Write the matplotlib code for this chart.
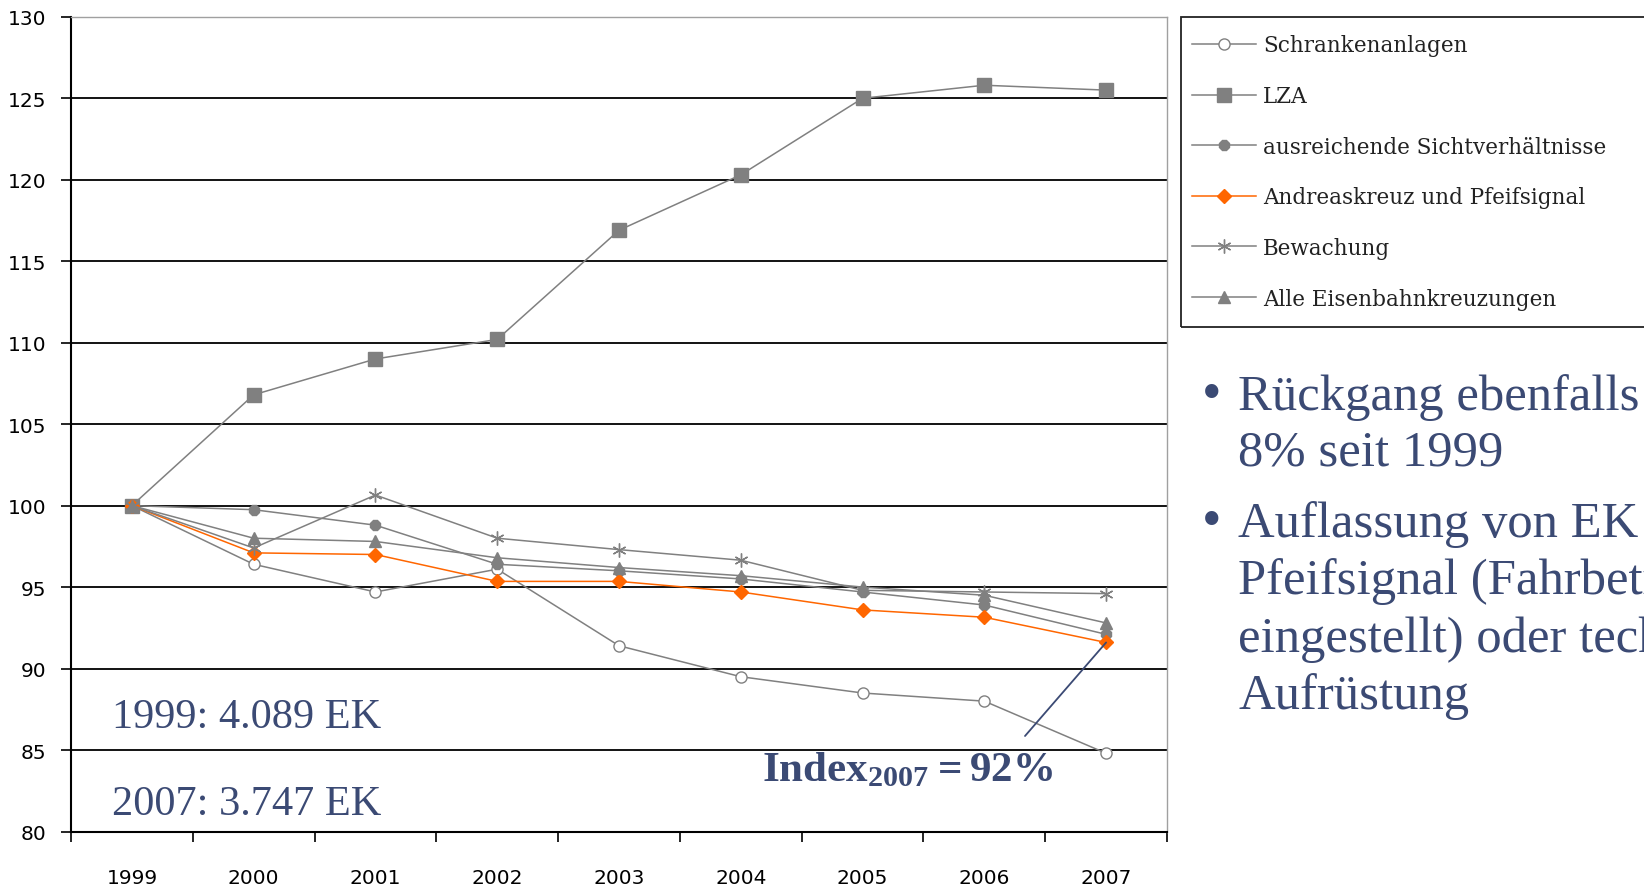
import matplotlib
matplotlib.use("Agg")
import matplotlib.pyplot as plt
from matplotlib.lines import Line2D
from matplotlib.patches import Rectangle

W, H = 1644, 887

years = ["1999", "2000", "2001", "2002", "2003", "2004", "2005", "2006", "2007"]

schrankenanlagen = [100, 96.4, 94.7, 96.1, 91.4, 89.5, 88.5, 88.0, 84.8]
lza = [100, 106.8, 109.0, 110.2, 116.9, 120.3, 125.0, 125.8, 125.5]
sichtverhaeltnisse = [100, 99.75, 98.8, 96.4, 96.0, 95.5, 94.7, 93.9, 92.1]
andreaskreuz = [100, 97.1, 97.0, 95.35, 95.35, 94.7, 93.6, 93.15, 91.6]
bewachung = [100, 97.4, 100.65, 98.0, 97.3, 96.65, 94.8, 94.7, 94.6]
alle_ek = [100, 98.0, 97.8, 96.8, 96.2, 95.7, 95.0, 94.5, 92.8]

series_labels = ["Schrankenanlagen", "LZA", "ausreichende Sichtverhältnisse",
                 "Andreaskreuz und Pfeifsignal", "Bewachung", "Alle Eisenbahnkreuzungen"]

GRAY = "#808080"
ORANGE = "#FF6600"
NAVY = "#3B4A74"

styles = [
    dict(color=GRAY, marker="o", markersize=8, markerfacecolor="white", markeredgecolor=GRAY, markeredgewidth=1.0),
    dict(color=GRAY, marker="s", markersize=10, markerfacecolor=GRAY, markeredgecolor=GRAY),
    dict(color=GRAY, marker="8", markersize=8.5, markerfacecolor=GRAY, markeredgecolor=GRAY),
    dict(color=ORANGE, marker="D", markersize=7.5, markerfacecolor=ORANGE, markeredgecolor=ORANGE),
    dict(color=GRAY, marker=(6, 2, 0), markersize=10, markeredgecolor=GRAY, markeredgewidth=1.0),
    dict(color=GRAY, marker="^", markersize=9, markerfacecolor=GRAY, markeredgecolor=GRAY),
]
data = [schrankenanlagen, lza, sichtverhaeltnisse, andreaskreuz, bewachung, alle_ek]

fig = plt.figure(figsize=(W / 100, H / 100), dpi=100)
fig.patch.set_facecolor("white")


def px(x, y):
    return x / W, 1 - y / H


ax_l, ax_r = 71 / W, 1167 / W
ax_b, ax_t = 1 - 832.5 / H, 1 - 17.8 / H
ax = fig.add_axes([ax_l, ax_b, ax_r - ax_l, ax_t - ax_b])

x = list(range(len(years)))
for vals, st in zip(data, styles):
    ax.plot(x, vals, linewidth=1.1, zorder=3, **st)

ax.set_xlim(-0.5, len(years) - 0.5)
ax.set_ylim(80, 130)
ax.set_yticks(range(80, 131, 5))
ax.yaxis.grid(True, color="black", linewidth=1.3, zorder=1)
ax.set_axisbelow(True)

ax.set_xticks(x)
ax.set_xticklabels(years)
ax.set_xticks([i - 0.5 for i in range(len(years) + 1)], minor=True)
ax.tick_params(axis="x", which="major", length=0, pad=26, labelsize=14.5)
ax.tick_params(axis="x", which="minor", length=7, width=1.2, direction="out", color="black")
ax.tick_params(axis="y", length=7, width=1.2, direction="out", pad=11, labelsize=14.5)

for side in ("left", "bottom"):
    ax.spines[side].set_color("black")
    ax.spines[side].set_linewidth(1.5)
for side in ("top", "right"):
    ax.spines[side].set_color("#A0A0A0")
    ax.spines[side].set_linewidth(1.0)

# Annotation for the 2007 index of the orange series
ax.annotate("", xy=(8, andreaskreuz[-1]), xycoords="data",
            xytext=px(1025, 737), textcoords="figure fraction",
            arrowprops=dict(arrowstyle="-", color=NAVY, linewidth=1.3, shrinkA=0, shrinkB=0))

plt.rcParams["mathtext.fontset"] = "custom"
plt.rcParams["mathtext.rm"] = "Liberation Serif"
plt.rcParams["mathtext.bf"] = "Liberation Serif:bold"
fig.text(*px(762, 781), r"$\mathbf{Index_{2007} = 92\%}$", fontsize=31, color=NAVY,
         va="baseline", ha="left")

serif = "Liberation Serif"
fig.text(*px(112, 728), "1999: 4.089 EK", fontsize=30.5, color=NAVY, family=serif, va="baseline")
fig.text(*px(112, 815), "2007: 3.747 EK", fontsize=30.5, color=NAVY, family=serif, va="baseline")

# Legend: frameless entries plus a separate border rectangle
handles = [Line2D([], [], linewidth=1.1, **st) for st in styles]
leg = fig.legend(handles, series_labels, loc="upper left",
                 bbox_to_anchor=px(1186, 29), frameon=False,
                 prop=dict(family="DejaVu Serif", size=15.5),
                 handlelength=2.95, handletextpad=0.34, labelspacing=1.33,
                 borderaxespad=0, borderpad=0.3)
for t in leg.get_texts():
    t.set_color("#222222")
fig.patches.append(Rectangle(px(1181, 328), 600 / W, 310 / H, transform=fig.transFigure,
                             fill=False, edgecolor="#222222", linewidth=1.3))

# Bullet text to the right of the chart
bullet_lines = [
    (410, "Rückgang ebenfalls", True),
    (466, "8% seit 1999", False),
    (537, "Auflassung von EK", True),
    (594, "Pfeifsignal (Fahrbetrieb", False),
    (652, "eingestellt) oder technische", False),
    (709, "Aufrüstung", False),
]
for y, txt, bullet in bullet_lines:
    if bullet:
        fig.text(*px(1202, y), "•", fontsize=40, color=NAVY, family=serif, va="baseline")
    fig.text(*px(1238, y), txt, fontsize=36.5, color=NAVY, family=serif, va="baseline")

fig.savefig("out.png", dpi=100)
